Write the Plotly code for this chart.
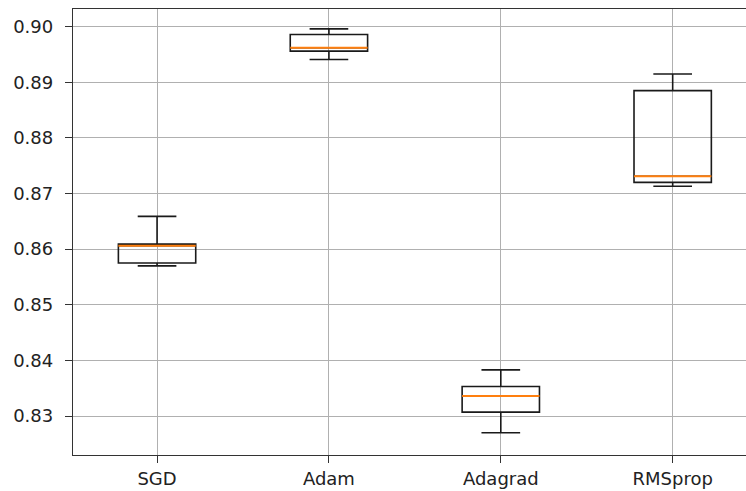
import plotly.graph_objects as go

categories = ["SGD", "Adam", "Adagrad", "RMSprop"]
lower_whisker = [0.8570, 0.8941, 0.8270, 0.8713]
q1_values = [0.8575, 0.8956, 0.8307, 0.8720]
median_values = [0.8606, 0.8962, 0.8336, 0.8731]
q3_values = [0.8609, 0.8986, 0.8353, 0.8885]
upper_whisker = [0.8659, 0.8996, 0.8383, 0.8915]
y_ticks = [0.83, 0.84, 0.85, 0.86, 0.87, 0.88, 0.89, 0.90]

positions = list(range(1, len(categories) + 1))
box_width = 0.45

fig = go.Figure()
fig.add_trace(go.Box(
    x=positions,
    q1=q1_values,
    median=median_values,
    q3=q3_values,
    lowerfence=lower_whisker,
    upperfence=upper_whisker,
    width=box_width,
    whiskerwidth=0.5,
    line=dict(color="#1a1a1a", width=1.6),
    fillcolor="rgba(0,0,0,0)",
    showlegend=False,
    hoverinfo="skip",
))

for p, m in zip(positions, median_values):
    fig.add_trace(go.Scatter(
        x=[p - box_width / 2, p + box_width / 2],
        y=[m, m],
        mode="lines",
        line=dict(color="#ff7f0e", width=2),
        showlegend=False,
        hoverinfo="skip",
    ))

fig.update_layout(
    width=746,
    height=491,
    margin=dict(l=73, r=0, t=9, b=36),
    paper_bgcolor="white",
    plot_bgcolor="white",
    font=dict(family="DejaVu Sans", size=18, color="#222222"),
)
fig.update_xaxes(
    range=[0.511, 4.4266],
    tickvals=positions,
    ticktext=categories,
    showgrid=True,
    gridcolor="#b0b0b0",
    gridwidth=1.2,
    showline=True,
    linecolor="#333333",
    linewidth=1.3,
    mirror=True,
    ticks="outside",
    ticklen=7,
    tickcolor="#333333",
    tickwidth=1.3,
    zeroline=False,
)
fig.update_yaxes(
    range=[0.82299, 0.90318],
    tickvals=y_ticks,
    ticktext=[f"{v:.2f}" for v in y_ticks],
    showgrid=True,
    gridcolor="#b0b0b0",
    gridwidth=1.2,
    showline=True,
    linecolor="#333333",
    linewidth=1.3,
    mirror=False,
    ticks="outside",
    ticklen=7,
    tickcolor="#333333",
    tickwidth=1.3,
    ticklabelstandoff=8,
    zeroline=False,
)

fig.write_html(
    "out.html",
    config={"displayModeBar": False},
    post_script="document.body.style.margin='0';document.body.style.overflow='hidden';",
)
